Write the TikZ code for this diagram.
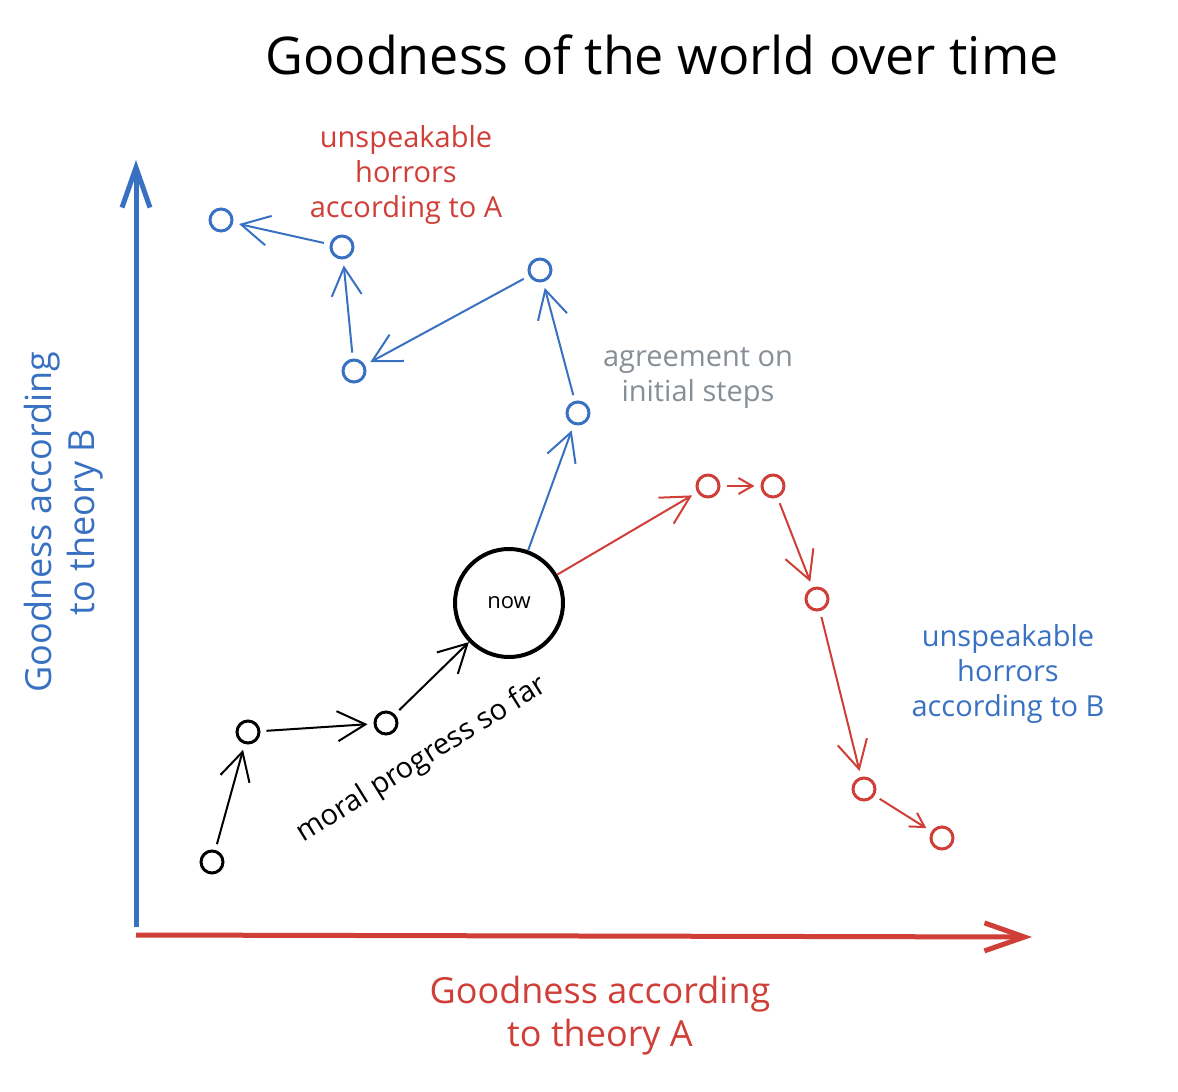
\documentclass[tikz,border=0pt]{standalone}
\usepackage{fontspec}
\setmainfont{Open Sans}
\usetikzlibrary{arrows.meta, positioning}
\definecolor{SketchBlue}{RGB}{56,112,194}
\definecolor{SketchRed}{RGB}{208,62,56}
\definecolor{SketchGrey}{RGB}{134,142,150}

\begin{document}
\begin{tikzpicture}[x=0.5pt, y=-0.5pt,
    state/.style={circle, draw, line width=1.5pt, minimum size=11pt, inner sep=0pt},
    move/.style={line width=1pt, -{Straight Barb[length=14pt,width=15pt]}, shorten <=3pt, shorten >=3pt},
    shortmove/.style={move, -{Straight Barb[length=7pt,width=8pt]}, shorten <=3pt, shorten >=3pt},
    axis/.style={line width=2.5pt, -{Straight Barb[length=20pt,width=14pt]}},
    note/.style={align=center, font=\fontsize{14.5}{17.5}\selectfont},
    axislabel/.style={align=center, font=\fontsize{18}{21.5}\selectfont}]
    \useasboundingbox (0,0) rectangle (1178,1092);

    % Title
    \node[font=\fontsize{26}{30}\selectfont] (title) at (662,55) {Goodness of the world over time};

    % Axes
    \coordinate (yfoot) at (136,927);
    \coordinate (ytop) at (136,160);
    \coordinate (xfoot) at (136,935);
    \coordinate (xtip) at (1032,937);
    \draw[axis, SketchBlue] (yfoot) -- (ytop);
    \draw[axis, SketchRed] (xfoot) -- (xtip);

    \node[axislabel, SketchBlue, rotate=90] (ylabel) at (64,522) {Goodness according\\to theory B};
    \node[axislabel, SketchRed] (xlabel) at (600,1016) {Goodness according\\to theory A};

    % Past
    \node[state] (b1) at (212,862) {};
    \node[state] (b2) at (248,732) {};
    \node[state] (b3) at (386,723) {};
    \node[state, minimum size=54pt, line width=2pt, font=\fontsize{11}{13}\selectfont] (now) at (509,603) {now};

    \draw[move] (b1) -- (b2);
    \draw[move] (b2) -- (b3);
    \draw[move, shorten >=0pt] (b3) -- (now);
    \node[note, rotate=32] (progress) at (422,760) {moral progress so far};

    % Path favoured by A
    \node[state, SketchBlue] (u1) at (578,413) {};
    \node[state, SketchBlue] (u2) at (540,270) {};
    \node[state, SketchBlue] (u3) at (354,371) {};
    \node[state, SketchBlue] (u4) at (342,247) {};
    \node[state, SketchBlue] (u5) at (221,220) {};

    \draw[move, SketchBlue, shorten <=0pt] (now) -- (u1);
    \draw[move, SketchBlue] (u1) -- (u2);
    \draw[move, SketchBlue] (u2) -- (u3);
    \draw[move, SketchBlue] (u3) -- (u4);
    \draw[move, SketchBlue] (u4) -- (u5);

    % Path favoured by B
    \node[state, SketchRed] (r1) at (708,486) {};
    \node[state, SketchRed] (r2) at (773,486) {};
    \node[state, SketchRed] (r3) at (817,599) {};
    \node[state, SketchRed] (r4) at (864,789) {};
    \node[state, SketchRed] (r5) at (942,838) {};

    \draw[move, SketchRed, shorten <=0pt] (now) -- (r1);
    \draw[shortmove, SketchRed] (r1) -- (r2);
    \draw[move, SketchRed] (r2) -- (r3);
    \draw[move, SketchRed] (r3) -- (r4);
    \draw[shortmove, SketchRed] (r4) -- (r5);

    % Notes
    \node[note, SketchRed] (horrorsA) at (406,175) {unspeakable\\horrors\\according to A};
    \node[note, SketchBlue] (horrorsB) at (1008,674) {unspeakable\\horrors\\according to B};
    \node[note, SketchGrey] (agree) at (698,378) {agreement on\\initial steps};
  \end{tikzpicture}
\end{document}
